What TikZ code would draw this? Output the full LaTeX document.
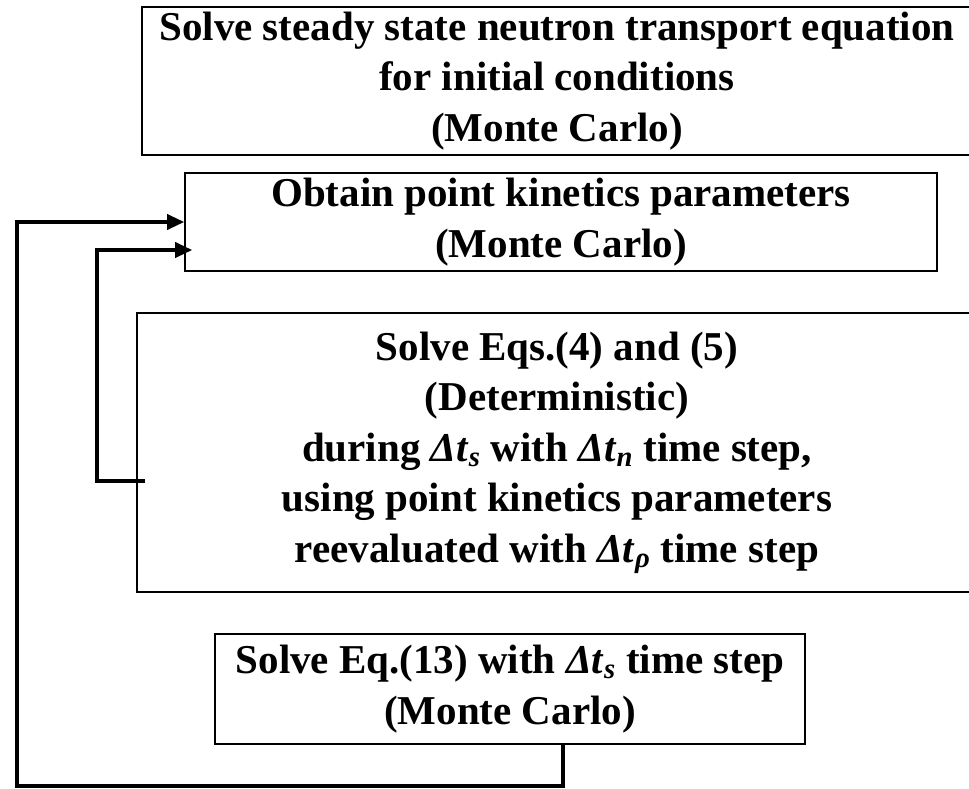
\documentclass[tikz,border=0pt]{standalone}
\usepackage{fontspec}
\setmainfont{Liberation Serif}
\usepackage{tikz}
\usetikzlibrary{arrows.meta,calc}
\newcommand{\dt}[1]{\textit{Δt}\textsubscript{\textit{#1}}}

\begin{document}
\begin{tikzpicture}[x=1pt,y=-1pt,
  box/.style={draw=black, line width=1.6pt, align=center, inner sep=0pt,
    font=\fontsize{41}{50.5}\selectfont\bfseries},
  flow/.style={line width=3.5pt, -{Triangle[length=17pt,width=15pt]}}]
\useasboundingbox (0,0) rectangle (969,788);

\node (B1) at (557,81) [box, minimum width=830, minimum height=148]
  {Solve steady state neutron transport equation\\ for initial conditions\\ (Monte Carlo)};
\node (B2) at (561,222) [box, minimum width=752, minimum height=98]
  {Obtain point kinetics parameters\\ (Monte Carlo)};
\node (B3) at (557,452.5) [box, minimum width=840, minimum height=279]
  {Solve Eqs.(4) and (5)\\ (Deterministic)\\ during \dt{s} with \dt{n} time step,\\
   using point kinetics parameters\\ reevaluated with \dt{ρ} time step};
\node (B4) at (510,689) [box, minimum width=590, minimum height=110]
  {Solve Eq.(13) with \dt{s} time step\\ (Monte Carlo)};

% outer loop
\coordinate (L1) at (17,786);
\draw[flow] ([xshift=53pt]B4.south) |- (L1) |- ([xshift=0pt]B2.west);
% inner loop
\coordinate (L2) at (97,481);
\draw[flow] ([xshift=9pt,yshift=-28.5pt]B3.west) -- (L2) |- ([xshift=8pt,yshift=-28pt]B2.west);
\end{tikzpicture}
\end{document}
